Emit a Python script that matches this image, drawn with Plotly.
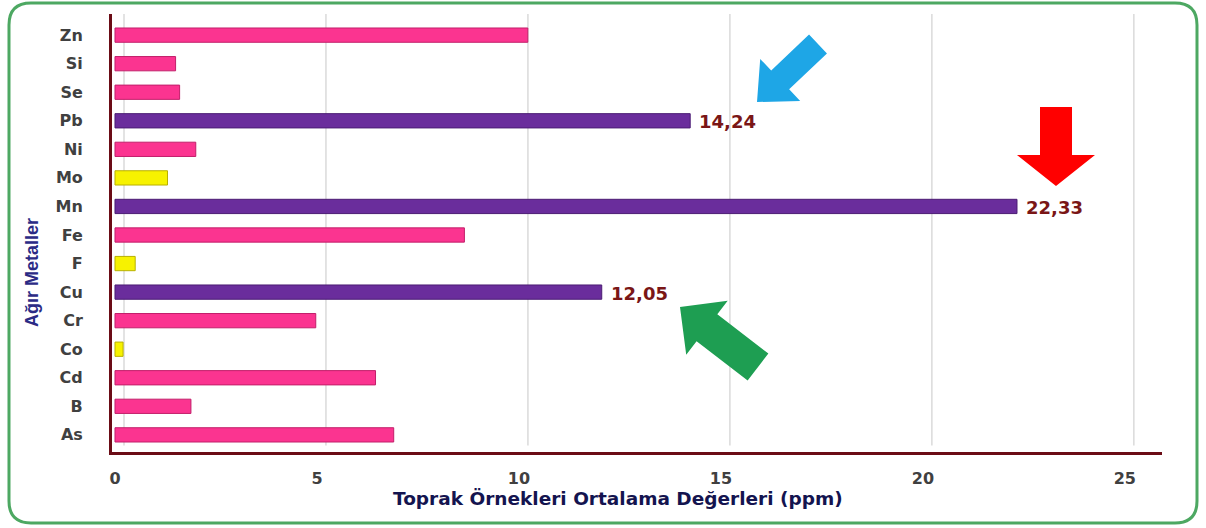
import math
import plotly.graph_objects as go

# ---------------- data ----------------
metals = ["As", "B", "Cd", "Co", "Cr", "Cu", "F", "Fe", "Mn", "Mo", "Ni", "Pb", "Se", "Si", "Zn"]
values = [6.9, 1.88, 6.45, 0.2, 4.97, 12.05, 0.5, 8.65, 22.33, 1.3, 2.0, 14.24, 1.6, 1.5, 10.22]
groups = ["pink", "pink", "pink", "yellow", "pink", "purple", "yellow", "pink",
          "purple", "yellow", "pink", "purple", "pink", "pink", "pink"]
x_ticks = [0, 5, 10, 15, 20, 25]
x_title = "Toprak Örnekleri Ortalama Değerleri (ppm)"
y_title = "Ağır Metaller"

# ---------------- styles ----------------
fill = {"pink": "#FB3490", "purple": "#6A2D9C", "yellow": "#F7F200"}
edge = {"pink": "#C21F6A", "purple": "#4B1C74", "yellow": "#B8B000"}

W, H = 1206, 528
L, R, T, B = 112, 44, 14, 76
PW, PH = W - L - R, H - T - B


def pp(px, py):
    return (px - L) / PW, (H - B - py) / PH


def arrow_path(tail, tip, sw, hw, hl):
    tx, ty = tail
    hx, hy = tip
    dx, dy = hx - tx, hy - ty
    ln = math.hypot(dx, dy)
    ux, uy = dx / ln, dy / ln
    nx, ny = -uy, ux
    neck = (hx - ux * hl, hy - uy * hl)
    pts = [
        (tx + nx * sw / 2, ty + ny * sw / 2),
        (neck[0] + nx * sw / 2, neck[1] + ny * sw / 2),
        (neck[0] + nx * hw / 2, neck[1] + ny * hw / 2),
        (hx, hy),
        (neck[0] - nx * hw / 2, neck[1] - ny * hw / 2),
        (neck[0] - nx * sw / 2, neck[1] - ny * sw / 2),
        (tx - nx * sw / 2, ty - ny * sw / 2),
    ]
    s = ""
    for i, (x, y) in enumerate(pts):
        a, b = pp(x, y)
        s += ("M" if i == 0 else "L") + f"{a:.5f},{b:.5f} "
    return s + "Z"


def rounded_rect(x0, y0, x1, y1, r):
    def p(x, y):
        a, b = pp(x, y)
        return f"{a:.5f},{b:.5f}"
    return (f"M{p(x0 + r, y0)} L{p(x1 - r, y0)} Q{p(x1, y0)} {p(x1, y0 + r)} "
            f"L{p(x1, y1 - r)} Q{p(x1, y1)} {p(x1 - r, y1)} "
            f"L{p(x0 + r, y1)} Q{p(x0, y1)} {p(x0, y1 - r)} "
            f"L{p(x0, y0 + r)} Q{p(x0, y0)} {p(x0 + r, y0)} Z")


fig = go.Figure()
fig.add_trace(go.Bar(
    x=values, y=metals, orientation="h",
    marker=dict(color=[fill[g] for g in groups],
                line=dict(color=[edge[g] for g in groups], width=1)),
    width=0.5, hoverinfo="x+y",
))

shapes = []
for t in x_ticks:
    shapes.append(dict(type="line", xref="x", xsizemode="pixel", xanchor=t, x0=9, x1=9,
                       yref="paper", y0=0.015, y1=1.0,
                       line=dict(color="#DADADA", width=1.5), layer="below"))

shapes.append(dict(type="path", xref="paper", yref="paper",
                   path=arrow_path((818, 44), (757, 102), 26, 58, 32),
                   fillcolor="#1EA6E6", line=dict(width=0)))
shapes.append(dict(type="path", xref="paper", yref="paper",
                   path=arrow_path((1056, 107), (1056, 186), 32, 78, 31),
                   fillcolor="#FF0000", line=dict(width=0)))
shapes.append(dict(type="path", xref="paper", yref="paper",
                   path=arrow_path((758, 367), (680, 307), 34, 68, 34),
                   fillcolor="#1E9E52", line=dict(width=0)))
shapes.append(dict(type="path", xref="paper", yref="paper",
                   path=rounded_rect(9, 3, 1197, 523, 22),
                   line=dict(color="#4DA862", width=3), fillcolor="rgba(0,0,0,0)"))

annotations = []
for m, v, g in zip(metals, values, groups):
    if g == "purple":
        annotations.append(dict(x=v, y=m, xref="x", yref="y", xanchor="left", xshift=7,
                                yshift=-1,
                                text=f"{v:.2f}".replace(".", ","), showarrow=False,
                                font=dict(family="DejaVu Sans", size=18, color="#7A1616",
                                          weight="bold")))
xt, yt = pp(32, 272)
annotations.append(dict(x=xt, y=yt, xref="paper", yref="paper", xanchor="center",
                        yanchor="middle", text=y_title, textangle=-90, showarrow=False,
                        font=dict(family="Liberation Sans Narrow, Arial Narrow, sans-serif",
                                  size=18, color="#2B2B85", weight="bold")))
xt, yt = pp(618, 498)
annotations.append(dict(x=xt, y=yt, xref="paper", yref="paper", xanchor="center",
                        yanchor="middle", text=x_title, showarrow=False,
                        font=dict(family="DejaVu Sans", size=18.5, color="#14144F",
                                  weight="bold")))

fig.update_layout(
    width=W, height=H, margin=dict(l=L, r=R, t=T, b=B),
    paper_bgcolor="white", plot_bgcolor="white",
    showlegend=False, shapes=shapes, annotations=annotations,
    xaxis=dict(range=[-0.074, 25.92], tickvals=x_ticks, showgrid=False, zeroline=False,
               showline=True, linecolor="#6B0C16", linewidth=3,
               ticks="", ticklabelstandoff=10,
               tickfont=dict(family="DejaVu Sans", size=16, color="#404040", weight="bold")),
    yaxis=dict(type="category", categoryorder="array", categoryarray=metals,
               range=[-0.6, 14.74], showgrid=False, zeroline=False,
               showline=True, linecolor="#6B0C16", linewidth=3,
               ticks="", ticklabelstandoff=23,
               tickfont=dict(family="DejaVu Sans", size=16, color="#404040", weight="bold")),
)

fig.write_html("out.html", config={"displayModeBar": False},
               post_script="document.body.style.margin='0';")
